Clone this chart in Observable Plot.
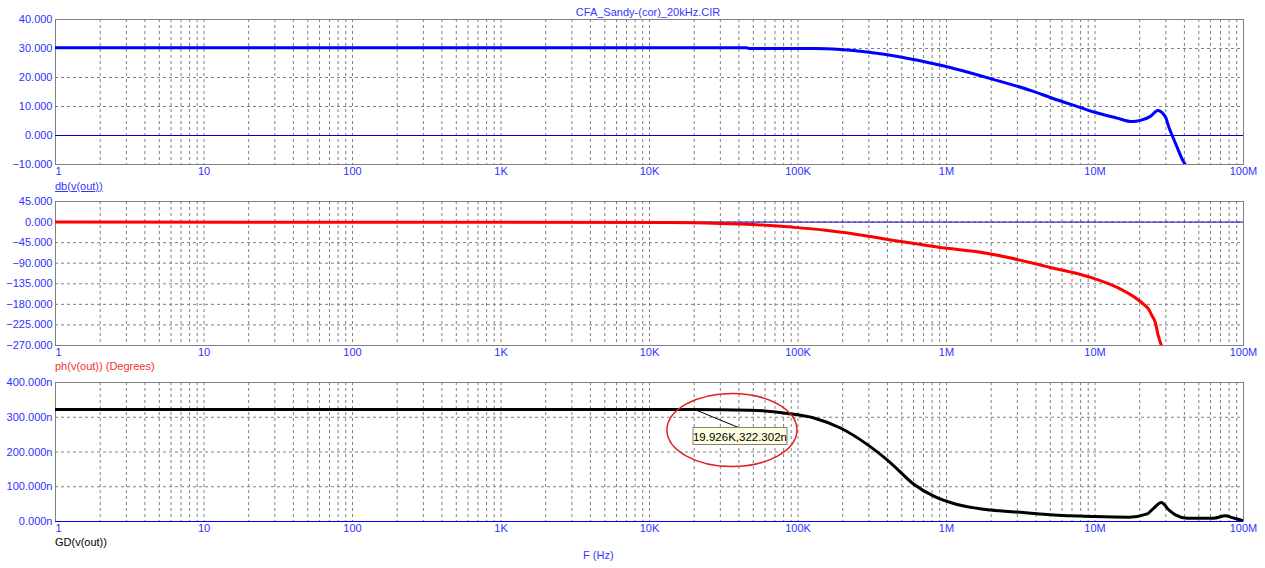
<!DOCTYPE html>
<html><head><meta charset="utf-8">
<script src="https://cdn.jsdelivr.net/npm/d3@7"></script>
<script src="https://cdn.jsdelivr.net/npm/@observablehq/plot@0.6"></script>
<style>
body{margin:0;background:#fff;}
#root{position:relative;width:1265px;height:568px;overflow:hidden;font-family:"Liberation Sans",Arial,sans-serif;background:#fff;}
.lbl{position:absolute;font-size:11px;white-space:nowrap;line-height:11px;}
</style></head><body>
<div id="root"><div id="panels"></div>
 <div class="lbl" style="left:0;width:1296px;text-align:center;top:7px;color:#3535ff">CFA_Sandy-(cor)_20kHz.CIR</div>
 <div class="lbl" style="left:55px;top:181px;color:#3535ff;text-decoration:underline">db(v(out))</div>
 <div class="lbl" style="left:55px;top:361px;color:#f03030">ph(v(out)) (Degrees)</div>
 <div class="lbl" style="left:55px;top:537px;color:#000">GD(v(out))</div>
 <div class="lbl" style="left:583px;top:550px;color:#3535ff">F (Hz)</div>
</div>
<script>
// ---- data ----
const xDecadeTicks = [1, 10, 100, 1e3, 1e4, 1e5, 1e6, 1e7, 1e8];
const xTickLabels = ["1", "10", "100", "1K", "10K", "100K", "1M", "10M", "100M"];
const magTicks = [-10, 0, 10, 20, 30, 40];
const phTicks = [-270, -225, -180, -135, -90, -45, 0, 45];
const gdTicks = [0, 100, 200, 300, 400];

const magFreq = [1, 45e3, 47e3, 130e3, 193e3, 292e3, 490e3, 912e3, 1.98e6, 3.85e6, 5.0e6, 8.0e6, 9.8e6, 14.1e6, 17.8e6, 20.2e6, 23.6e6, 26.5e6, 29.9e6, 31.4e6, 33.1e6, 35.7e6, 38.6e6, 40.5e6];
const magDb   = [30.3, 30.3, 30.0, 30.0, 29.65, 28.8, 27.1, 24.2, 19.6, 15.2, 13.1, 9.6, 8.1, 6.0, 4.8, 5.2, 6.6, 8.65, 6.3, 2.9, 0, -4, -8.1, -10];

const phFreq = [1, 14e3, 30e3, 50e3, 70e3, 93.8e3, 149e3, 250e3, 420e3, 703e3, 1.01e6, 1.53e6, 2.56e6, 4.3e6, 5.0e6, 6.8e6, 9.8e6, 14.1e6, 19.7e6, 21.3e6, 23e6, 24.2e6, 25.5e6, 26.5e6, 28e6];
const phDeg  = [0, -1, -3, -5.5, -8, -11.6, -17.5, -27, -39, -50, -57.5, -64, -77, -94, -99.5, -109, -123, -143, -171, -180, -190.7, -205, -220, -245, -270];

const gdFreq = [1, 19.926e3, 48e3, 84.6e3, 128e3, 193e3, 292e3, 420e3, 602e3, 820e3, 1.18e6, 1.98e6, 3.3e6, 5.0e6, 9.8e6, 16.9e6, 22.5e6, 24.8e6, 28e6, 31.4e6, 34.8e6, 41.8e6, 63e6, 75.7e6, 84e6, 98e6, 1e8];
const gdNs   = [322.5, 322.3, 320.5, 311, 298, 269, 222, 169, 107, 73, 49, 33, 26, 19.5, 14.4, 12.5, 22, 38, 55, 33.6, 19.2, 9.6, 9.6, 16.5, 11, 3, 2];

const cursorF = 19.926e3, cursorV = 322.302;
const cursorText = "19.926K,322.302n";

// ---- helpers ----
const zip = (fs, vs) => fs.map((f, i) => ({f, v: vs[i]}));
const labelMap = new Map(xDecadeTicks.map((d, i) => [d, xTickLabels[i]]));
const fmtX = d => labelMap.get(d);
const gridXTicks = [];
for (let e = 0; e < 8; e++) for (let k = 1; k <= 9; k++) { const t = k * Math.pow(10, e); if (t > 1) gridXTicks.push(t); }

function panel({yDomain, yTicks, yFmt, data, color, height, mt, mb, zeroColor}) {
  return Plot.plot({
    width: 1265, height, marginLeft: 55, marginRight: 22, marginTop: mt, marginBottom: mb,
    style: {fontFamily: '"Liberation Sans", Arial, sans-serif', fontSize: "11px", color: "#3030ff", background: "transparent", overflow: "visible"},
    x: {type: "log", domain: [1, 1e8]},
    y: {domain: yDomain},
    marks: [
      Plot.gridX({ticks: gridXTicks, stroke: "#808080", strokeOpacity: 1, strokeDasharray: "3,3"}),
      Plot.gridY({ticks: yTicks, stroke: "#808080", strokeOpacity: 1, strokeDasharray: "3,3"}),
      Plot.frame({stroke: "#808080"}),
      Plot.ruleY([0], {stroke: zeroColor}),
      Plot.line(data, {x: "f", y: "v", stroke: color, strokeWidth: 3, clip: true, curve: "monotone-x"}),
      Plot.axisX({ticks: xDecadeTicks.slice(1), tickFormat: fmtX, tickSize: 0, tickPadding: 3, label: null}),
      Plot.axisX({ticks: [1], tickFormat: fmtX, tickSize: 0, tickPadding: 3, textAnchor: "start", label: null}),
      Plot.axisY({ticks: yTicks, tickFormat: yFmt, tickSize: 0, tickPadding: 3, label: null})
    ]
  });
}

const f3 = d3.format(".3f");
const p1 = panel({yDomain: [-10, 40], yTicks: magTicks, yFmt: f3, data: zip(magFreq, magDb), color: "#0000ff", height: 181, mt: 19, mb: 17, zeroColor: "#0000c8"});
const p2 = panel({yDomain: [-270, 45], yTicks: phTicks, yFmt: f3, data: zip(phFreq, phDeg), color: "#ff0000", height: 181, mt: 20, mb: 17, zeroColor: "#0000c8"});
const p3 = panel({yDomain: [0, 400], yTicks: gdTicks, yFmt: d => f3(d) + "n", data: zip(gdFreq, gdNs), color: "#000000", height: 206, mt: 20, mb: 47, zeroColor: "#0000ff"});

const host = document.getElementById("panels");
[[p1, 0], [p2, 181], [p3, 362]].forEach(([p, top]) => {
  p.style.position = "absolute"; p.style.left = "0px"; p.style.top = top + "px";
  host.appendChild(p);
});

// cursor annotation
const px = p3.scale("x").apply(cursorF), py = p3.scale("y").apply(cursorV);
const g = d3.select(p3).append("g");
g.append("ellipse").attr("cx", px + 38.5).attr("cy", py + 21).attr("rx", 65).attr("ry", 36.5)
  .attr("fill", "none").attr("stroke", "#e02020").attr("stroke-width", 1.5);
g.append("line").attr("x1", px).attr("y1", py).attr("x2", px + 45).attr("y2", py + 18.5)
  .attr("stroke", "#000").attr("stroke-width", 1);
g.append("rect").attr("x", px - 0.5).attr("y", py + 18.5).attr("width", 94).attr("height", 17)
  .attr("fill", "#ffffe1").attr("stroke", "#808080").attr("stroke-width", 1);
g.append("text").attr("x", px + 46.5).attr("y", py + 27.5).attr("text-anchor", "middle")
  .attr("dominant-baseline", "central").attr("fill", "#000")
  .style("font-family", '"Liberation Sans", Arial, sans-serif').style("font-size", "11.5px").text(cursorText);
</script>
</body></html>
